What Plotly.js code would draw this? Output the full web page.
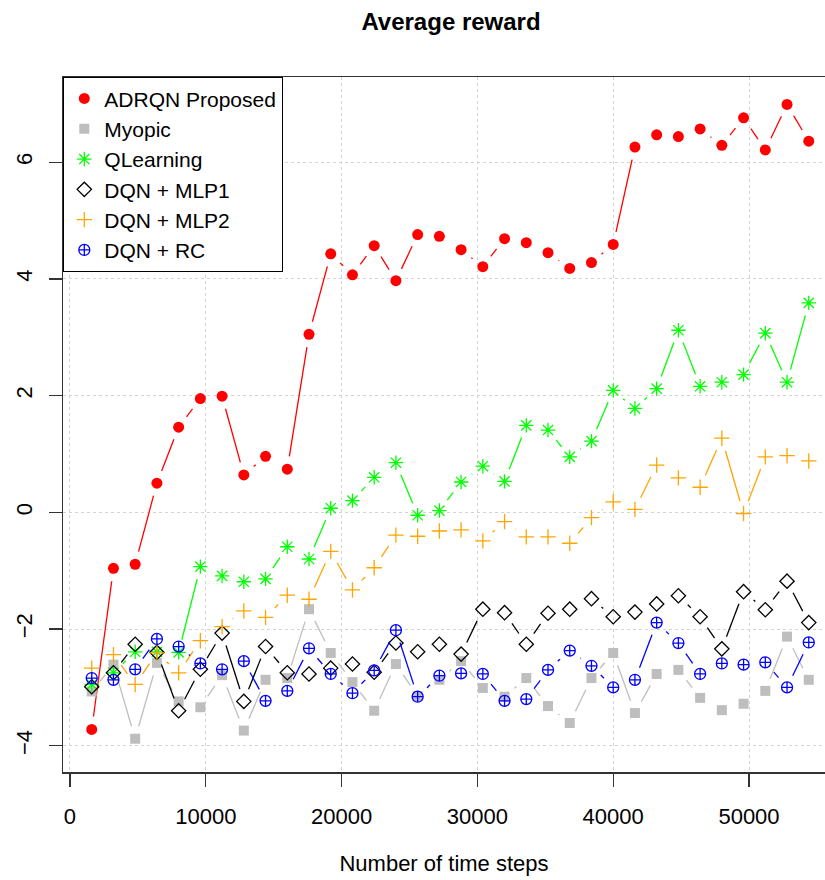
<!DOCTYPE html>
<html>
<head>
<meta charset="utf-8">
<script src="https://cdn.plot.ly/plotly-3.0.1.min.js"></script>
<style>html,body{margin:0;padding:0;background:#fff;}#chart{width:825px;height:880px;}</style>
</head>
<body>
<div id="chart"></div>
<script>
const steps = [1600, 3200, 4800, 6400, 8000, 9600, 11200, 12800, 14400, 16000, 17600, 19200, 20800, 22400, 24000, 25600, 27200, 28800, 30400, 32000, 33600, 35200, 36800, 38400, 40000, 41600, 43200, 44800, 46400, 48000, 49600, 51200, 52800, 54400];

const adrqn = [-3.72, -0.96, -0.89, 0.50, 1.46, 1.95, 1.99, 0.64, 0.96, 0.74, 3.05, 4.43, 4.07, 4.57, 3.97, 4.76, 4.73, 4.50, 4.21, 4.69, 4.62, 4.45, 4.18, 4.28, 4.59, 6.26, 6.47, 6.44, 6.57, 6.29, 6.76, 6.21, 6.99, 6.36];
const myopic = [-3.07, -2.61, -3.88, -2.58, -3.24, -3.34, -2.79, -3.74, -2.87, -2.84, -1.66, -2.41, -2.91, -3.40, -2.60, -3.15, -2.87, -2.55, -3.01, -3.16, -2.84, -3.32, -3.61, -2.84, -2.41, -3.44, -2.77, -2.70, -3.18, -3.39, -3.28, -3.06, -2.13, -2.87];
const qlearning = [-2.95, -2.75, -2.39, -2.39, -2.40, -0.93, -1.09, -1.19, -1.14, -0.59, -0.80, 0.07, 0.20, 0.60, 0.85, -0.05, 0.03, 0.52, 0.79, 0.53, 1.49, 1.41, 0.95, 1.22, 2.09, 1.78, 2.12, 3.12, 2.16, 2.23, 2.36, 3.07, 2.23, 3.59];
const mlp1 = [-2.99, -2.75, -2.26, -2.40, -3.40, -2.69, -2.07, -3.24, -2.30, -2.75, -2.77, -2.67, -2.60, -2.74, -2.24, -2.39, -2.26, -2.43, -1.66, -1.72, -2.26, -1.73, -1.66, -1.48, -1.79, -1.71, -1.57, -1.43, -1.79, -2.34, -1.36, -1.67, -1.18, -1.89];
const mlp2 = [-2.67, -2.44, -2.95, -2.41, -2.75, -2.20, -1.96, -1.69, -1.80, -1.42, -1.49, -0.67, -1.33, -0.95, -0.39, -0.41, -0.32, -0.30, -0.49, -0.16, -0.42, -0.42, -0.53, -0.09, 0.18, 0.05, 0.81, 0.59, 0.43, 1.27, -0.02, 0.95, 0.97, 0.88];
const rc = [-2.84, -2.87, -2.69, -2.17, -2.30, -2.59, -2.69, -2.55, -3.23, -3.06, -2.33, -2.77, -3.10, -2.71, -2.02, -3.16, -2.80, -2.76, -2.77, -3.23, -3.20, -2.70, -2.37, -2.63, -3.00, -2.87, -1.89, -2.24, -2.77, -2.59, -2.61, -2.57, -3.00, -2.23];

const seriesNames = ["ADRQN Proposed", "Myopic", "QLearning", "DQN + MLP1", "DQN + MLP2", "DQN + RC"];
const xTicks = [0, 10000, 20000, 30000, 40000, 50000];
const yTicks = [-4, -2, 0, 2, 4, 6];

// layout geometry
const W = 825, H = 880;
const M = {l: 63, r: 0, t: 77, b: 108};
const xRange = [-515, 55596];
const yRange = [-4.45, 7.46];
const plotW = W - M.l - M.r, plotH = H - M.t - M.b;
const sx = plotW / (xRange[1] - xRange[0]);
const sy = plotH / (yRange[1] - yRange[0]);

// R type="b": line segments stop short of each point
function gappedLine(xs, ys, gap) {
  const ox = [], oy = [];
  for (let i = 0; i < xs.length - 1; i++) {
    const dxp = (xs[i+1] - xs[i]) * sx, dyp = (ys[i+1] - ys[i]) * sy;
    const d = Math.sqrt(dxp*dxp + dyp*dyp);
    if (d <= 2 * gap) continue;
    const f = gap / d;
    const ddx = xs[i+1] - xs[i], ddy = ys[i+1] - ys[i];
    ox.push(xs[i] + ddx*f, xs[i+1] - ddx*f, null);
    oy.push(ys[i] + ddy*f, ys[i+1] - ddy*f, null);
  }
  return {x: ox, y: oy};
}

const styles = [
  {data: adrqn, color: "#FF0000", symbol: "circle", size: 11, lw: 0},
  {data: myopic, color: "#BEBEBE", symbol: "square", size: 10, lw: 0},
  {data: qlearning, color: "#00FF00", symbol: "asterisk-open", size: 12, lw: 1.3},
  {data: mlp1, color: "#000000", symbol: "diamond-open", size: 11, lw: 1.3},
  {data: mlp2, color: "#FFA500", symbol: "cross-thin-open", size: 11, lw: 1.3},
  {data: rc, color: "#0000FF", symbol: "circle-cross-open", size: 11, lw: 1.3}
];

const traces = [];
styles.forEach((s, k) => {
  const g = gappedLine(steps, s.data, 13);
  traces.push({x: g.x, y: g.y, mode: "lines", type: "scatter", showlegend: false,
    line: {color: s.color, width: 1.3}, hoverinfo: "skip", connectgaps: false});
  traces.push({x: steps, y: s.data, mode: "markers", type: "scatter", name: seriesNames[k],
    marker: {color: s.color, symbol: s.symbol, size: s.size, line: {color: s.color, width: s.lw}}});
});

const fontFam = "Liberation Sans, Arial, Helvetica, sans-serif";
const layout = {
  width: W, height: H,
  margin: M,
  paper_bgcolor: "#fff", plot_bgcolor: "#fff",
  font: {family: fontFam, size: 22, color: "#000"},
  title: {text: "<b>Average reward</b>", font: {family: fontFam, size: 24, color: "#000"},
          x: 451/825, xref: "container", xanchor: "center", y: 1 - 22/880, yref: "container", yanchor: "middle"},
  xaxis: {range: xRange, tickvals: xTicks, ticktext: xTicks.map(String), ticks: "outside", ticklen: 13, tickwidth: 1.3, tickcolor: "#333",
          showline: true, mirror: true, linecolor: "#333", linewidth: 1.5, zeroline: false,
          showgrid: true, gridcolor: "#d3d3d3", griddash: "dot", gridwidth: 1,
          ticklabelstandoff: 11, tickfont: {size: 22},
          title: {text: "Number of time steps", font: {size: 22}, standoff: 27}},
  yaxis: {range: yRange, tickvals: yTicks, ticktext: yTicks.map(v => v < 0 ? "\u2212" + Math.abs(v) : String(v)), ticks: "outside", ticklen: 13, tickwidth: 1.3, tickcolor: "#333",
          showline: true, mirror: true, linecolor: "#333", linewidth: 1.5, zeroline: false,
          showgrid: true, gridcolor: "#d3d3d3", griddash: "dot", gridwidth: 1,
          tickangle: -90, ticklabelstandoff: 8, tickfont: {size: 22}},
  legend: {x: 0, y: 1, xanchor: "left", yanchor: "top", bgcolor: "#fff", bordercolor: "#000", borderwidth: 1.3,
           font: {size: 21}, tracegroupgap: 0}
};

Plotly.newPlot("chart", traces, layout, {staticPlot: true});
</script>
</body>
</html>
